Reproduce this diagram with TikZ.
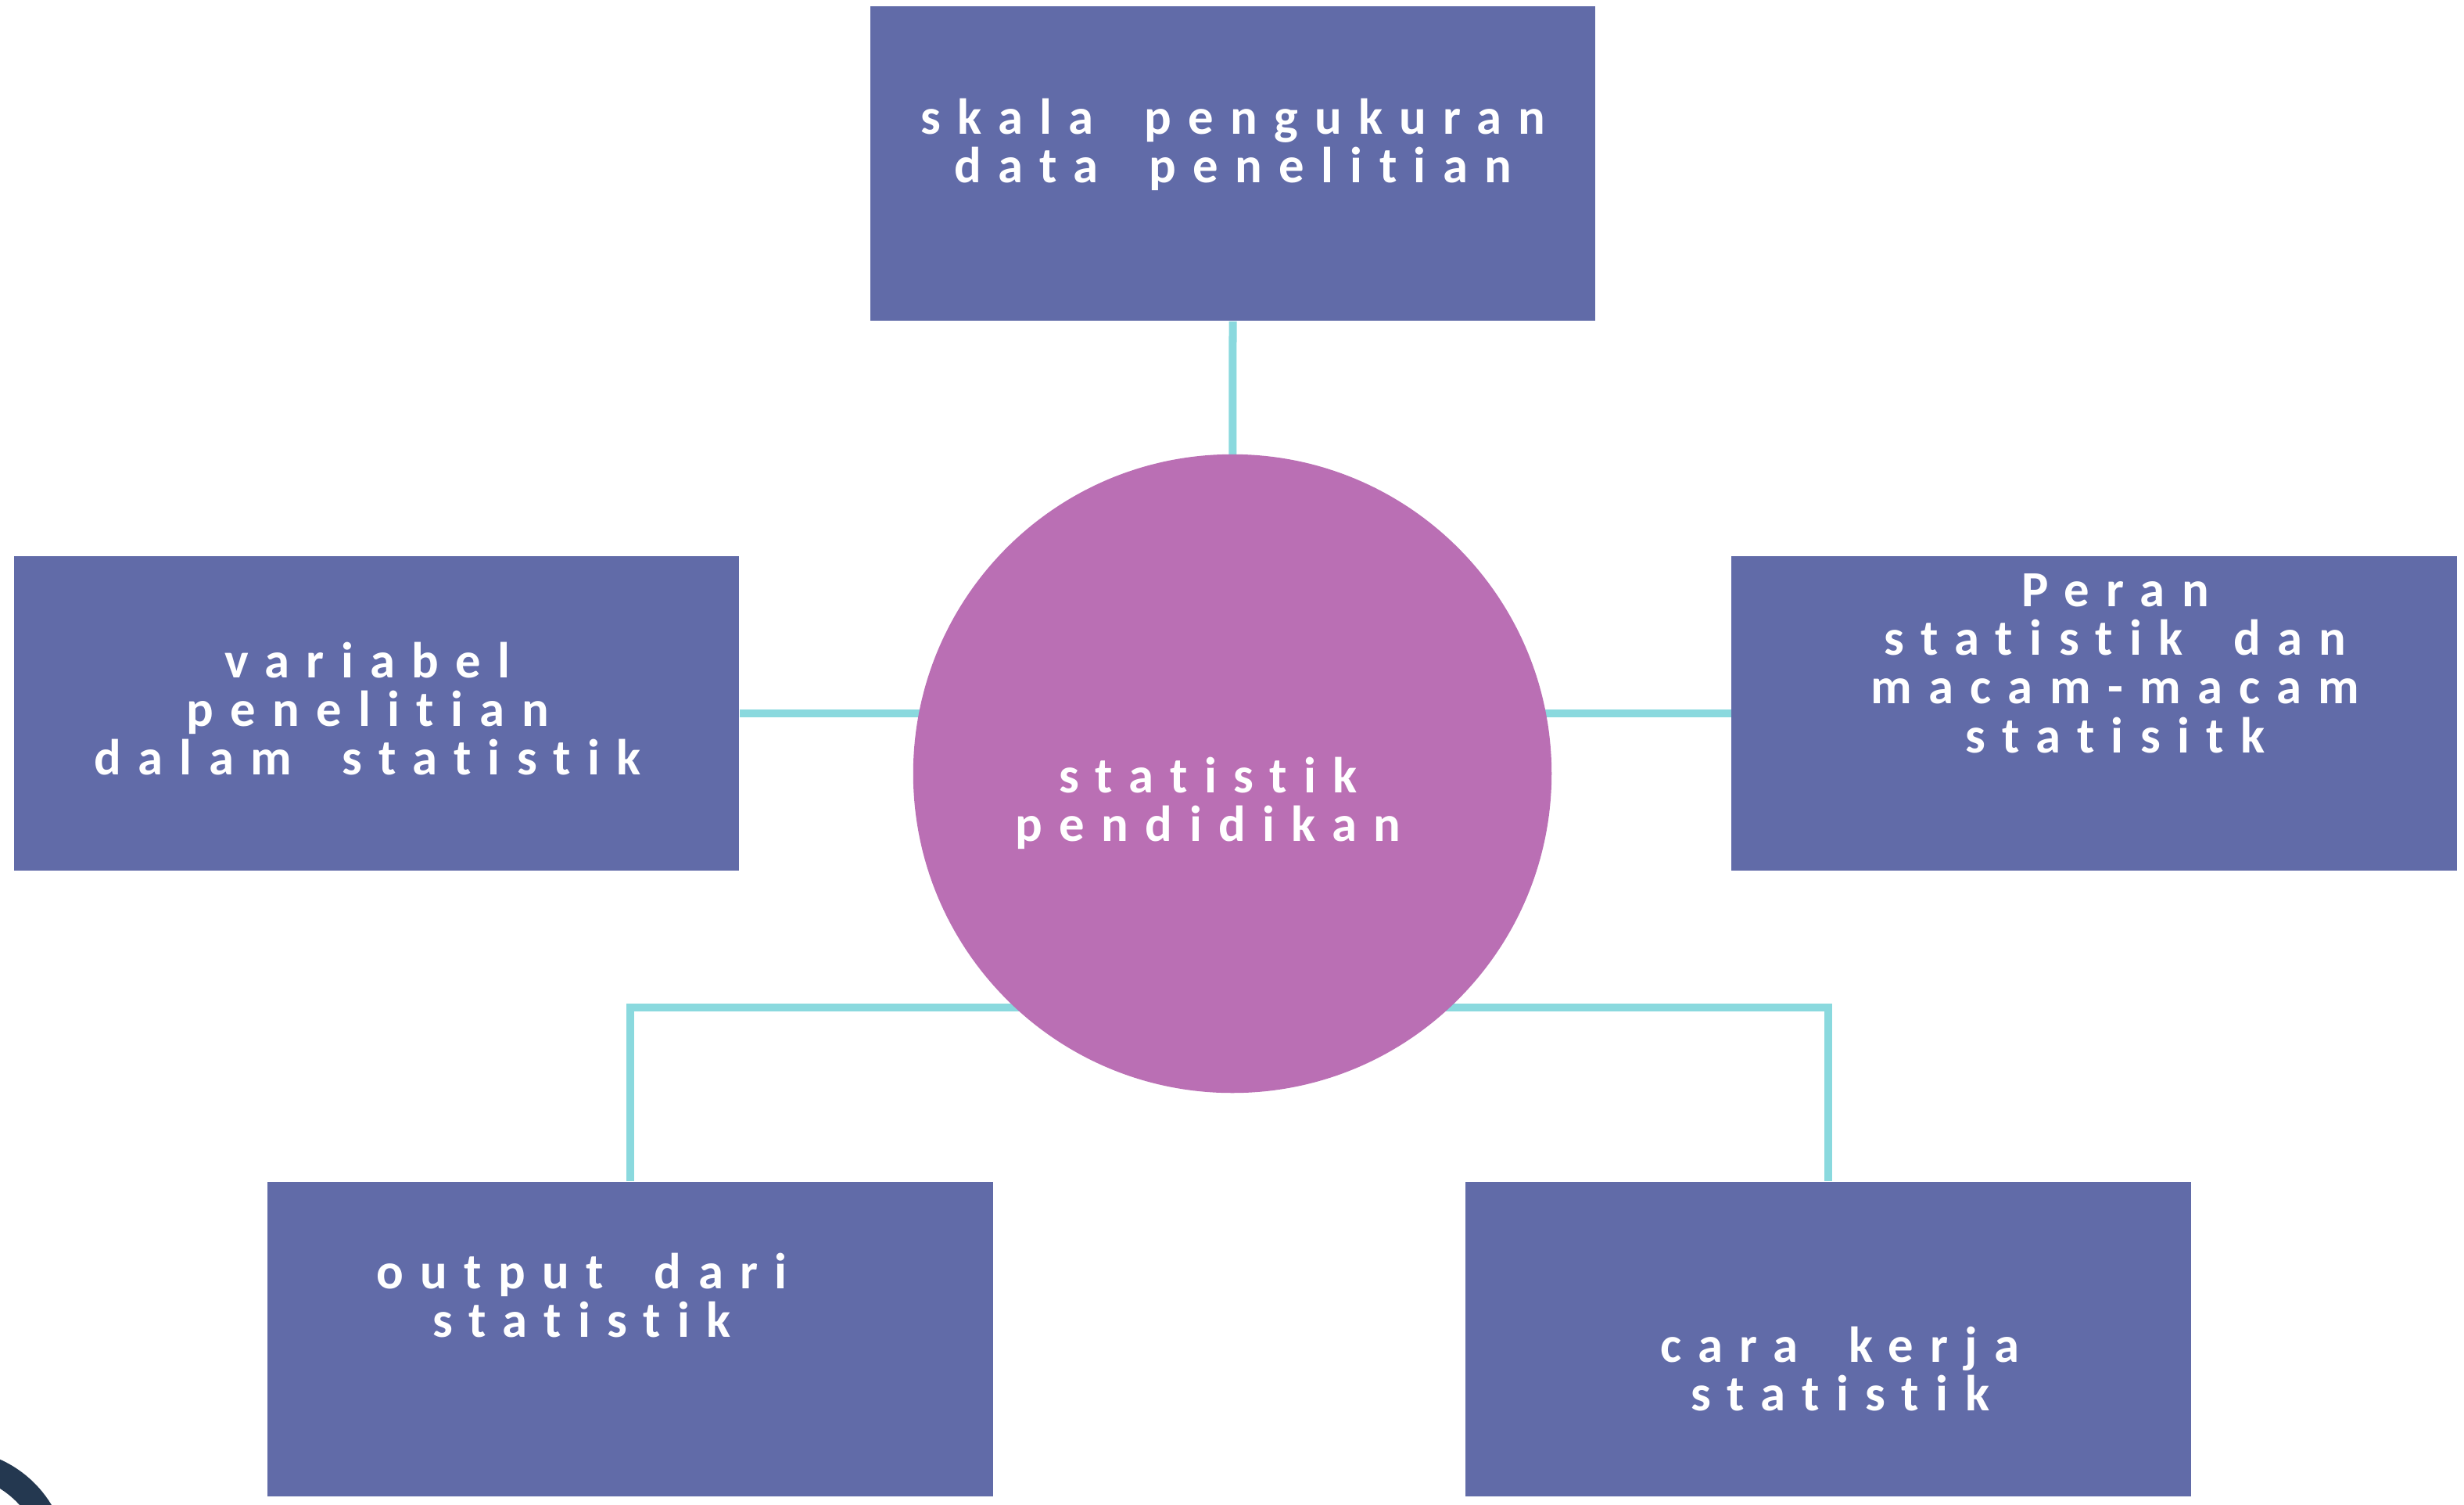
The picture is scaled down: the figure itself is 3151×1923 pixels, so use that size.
\documentclass[tikz,border=0pt]{standalone}
\usepackage{fontspec}
\newfontfamily\lbl[LetterSpace=33,WordSpace=1.8,Ligatures={NoCommon,NoDiscretionary,NoRequired}]{Carlito}
\usetikzlibrary{backgrounds}
\definecolor{boxc}{HTML}{616BA8}
\definecolor{circc}{HTML}{BA6FB4}
\definecolor{linec}{HTML}{8AD9DE}
\definecolor{darkc}{HTML}{243850}
\tikzset{
  box/.style={fill=boxc, draw=none, minimum width=9.27cm, minimum height=4.02cm, inner sep=0pt},
  hub/.style={circle, fill=circc, draw=none, minimum size=8.16cm, inner sep=0pt},
  lbltext/.style={text=white, align=center, font=\lbl\bfseries\fontsize{18.4}{17.7}\selectfont, inner sep=0pt},
  conn/.style={draw=linec, line width=0.1cm}
}
\begin{document}
\begin{tikzpicture}[x=0.01cm, y=-0.01cm]
\useasboundingbox (0,0) rectangle (3151,1923);
\begin{scope}
\clip (0,0) rectangle (3151,1923);
\draw[darkc, line width=0.33cm] (-60,2000) circle[radius=1.305cm];
\end{scope}
\node[box] (top) at (1576.5,209) {};
\node[box] (left) at (481.5,912) {};
\node[box] (right) at (2678,912) {};
\node[box] (bl) at (806,1712) {};
\node[box] (br) at (2338,1712) {};
\node[hub] (circ) at (1576,989) {};
\node[lbltext] (ttop) at (1577,185) {skala pengukuran\\data penelitian};
\node[lbltext] (tleft) at (470,906) {variabel\\penelitian\\dalam statistik};
\node[lbltext] (tright) at (2705,848) {Peran\\statistik dan\\macam-macam\\statisitk};
\node[lbltext] (tcirc) at (1545,1027) {statistik\\pendidikan};
\node[lbltext] (tbl) at (744,1656) {output dari\\statistik};
\node[lbltext] (tbr) at (2353,1750) {cara kerja\\statistik};
\begin{scope}[on background layer]
\draw[conn] (top.south) -- (circ.center);
\draw[conn] (left.east) -- (left.east -| circ.center);
\draw[conn] (right.west) -- (right.west -| circ.center);
\draw[conn] (bl.north) |- ([yshift=-2.99cm]circ.center);
\draw[conn] (br.north) |- ([yshift=-2.99cm]circ.center);
\end{scope}
\end{tikzpicture}
\end{document}
